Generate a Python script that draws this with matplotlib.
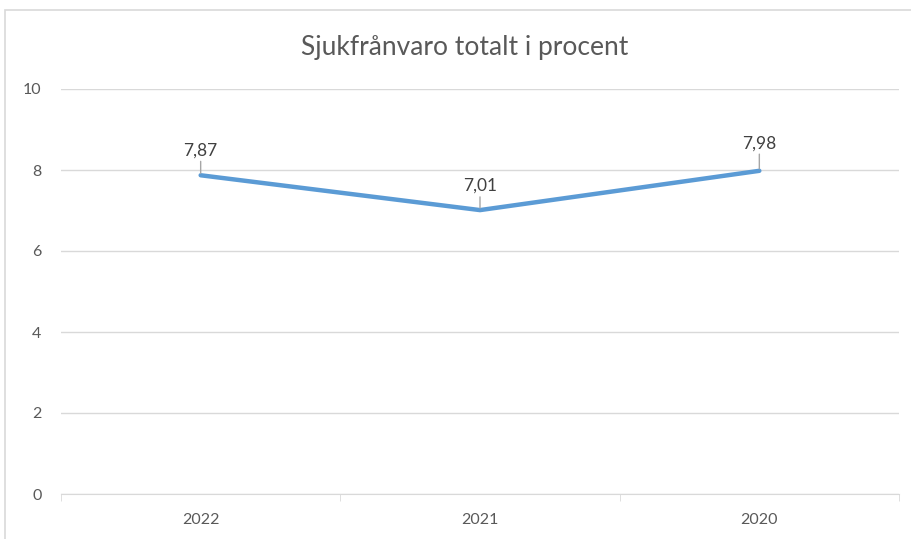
import matplotlib.pyplot as plt
from matplotlib.patches import Rectangle

years = ['2022', '2021', '2020']
values = [7.87, 7.01, 7.98]
yticks = [0, 2, 4, 6, 8, 10]

plt.rcParams['font.family'] = ['Lato', 'DejaVu Sans']

fig = plt.figure(figsize=(9.11, 5.39), dpi=100)
ax = fig.add_axes([61 / 911, 1 - 494 / 539, 838 / 911, 405 / 539])

# outer chart border
fig.patches.append(Rectangle((5 / 911, -0.1), 1.1, 1 - 10 / 539 + 0.1,
                             transform=fig.transFigure, fill=False,
                             edgecolor='#d9d9d9', linewidth=1.2))

x = range(len(years))
ax.plot(x, values, color='#5b9bd5', linewidth=3.2, solid_capstyle='round', zorder=3)

offsets = [12, 11.5, 14]
for xi, v, off in zip(x, values, offsets):
    ax.annotate(f'{v:.2f}'.replace('.', ','), xy=(xi, v), xytext=(0, off),
                textcoords='offset points', ha='center', va='bottom',
                fontsize=12.5, color='#404040',
                arrowprops=dict(arrowstyle='-', color='#a6a6a6', lw=1,
                                shrinkA=0, shrinkB=1.5))

ax.set_xlim(-0.5, 2.5)
ax.set_ylim(0, 10)
ax.set_yticks(yticks)
ax.set_xticks(list(x))
ax.set_xticklabels(years)
ax.set_xticks([-0.5, 0.5, 1.5, 2.5], minor=True)
ax.grid(axis='y', color='#d9d9d9', linewidth=1)
ax.set_axisbelow(True)
for s in ['top', 'right', 'left']:
    ax.spines[s].set_visible(False)
ax.spines['bottom'].set_color('#d9d9d9')
ax.tick_params(axis='y', length=0, pad=14, labelsize=11.5, labelcolor='#595959')
ax.tick_params(axis='x', which='major', length=0, pad=14, labelsize=11.5, labelcolor='#595959')
ax.tick_params(axis='x', which='minor', length=5, color='#d9d9d9')

fig.text(465 / 911, 1 - 47 / 539, 'Sjukfrånvaro totalt i procent', ha='center', va='center',
         fontsize=19, color='#595959')

fig.savefig('out.png', dpi=100)
